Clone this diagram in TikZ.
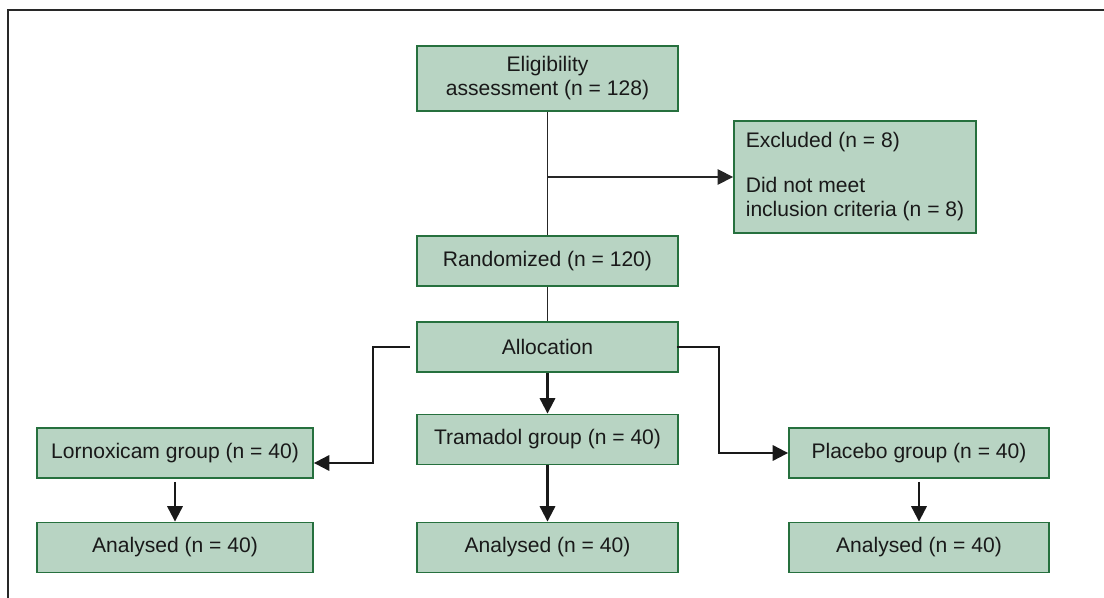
\documentclass[tikz,border=0pt]{standalone}
\usepackage{fontspec}
\setmainfont{Liberation Sans}
\usetikzlibrary{arrows.meta}
\definecolor{boxfill}{RGB}{184,212,195}
\definecolor{boxline}{RGB}{38,112,62}
\definecolor{framegray}{RGB}{40,40,40}

\begin{document}
\begin{tikzpicture}[x=0.75pt,y=0.75pt,yscale=-1,xscale=1,
  box/.style={draw=boxline, fill=boxfill, line width=1.4pt, minimum width=195.75pt, minimum height=37.5pt, align=center, inner sep=0.75pt, font=\fontsize{15.8}{18}\selectfont, text=black!90},
  thinline/.style={line width=0.9pt, black!85},
  flow/.style={line width=1.6pt, black!90, -{Triangle[length=11.5pt,width=11.5pt]}}]
\useasboundingbox (0,0) rectangle (1104,598);

%Shape: Frame
\draw [framegray, line width=1.1pt] (8,598) -- (8,10) -- (1104,10) ;

% Text Node
\node [box, minimum height=48.75pt] (elig) at (547.5,78.5) {Eligibility\\assessment (n = 128)};
% Text Node
\node [box, minimum width=181.5pt, minimum height=84pt, align=left] (excl) at (855,177) {Excluded (n = 8)\\[15.75pt]Did not meet\\inclusion criteria (n = 8)};
% Text Node
\node [box] (rand) at (547.5,261) {Randomized (n = 120)};
% Text Node
\node [box] (alloc) at (547.5,347) {Allocation};
% Text Node
\node [box] (tram) at (547.5,439.5) {Tramadol group (n = 40)};
% Text Node
\node [box, minimum width=207pt] (lorn) at (175,453) {Lornoxicam group (n = 40)};
% Text Node
\node [box, minimum width=195pt] (plac) at (919,453) {Placebo group (n = 40)};
% Text Node
\node [box, minimum width=207pt] (anlorn) at (175,547.5) {Analysed (n = 40)};
% Text Node
\node [box] (antram) at (547.5,547.5) {Analysed (n = 40)};
% Text Node
\node [box, minimum width=195pt] (anplac) at (919,547.5) {Analysed (n = 40)};

%Straight Lines
\coordinate (split) at (elig.south |- excl.west);
\coordinate (lornin) at ([yshift=7.5pt]lorn.east);
\draw [thinline] (elig.south) -- (rand.north) ;
\draw [thinline, line width=1.2pt, -{Triangle[length=11.5pt,width=11.5pt]}] (split) -- (excl.west) ;
\draw [thinline] (rand.south) -- (alloc.north) ;
\draw [flow] ([xshift=-4.5pt]alloc.west) -- ++(-37,0) |- (lornin) ;
\draw [flow] ([xshift=-1.5pt]alloc.east) -- ++(42,0) |- (plac.west) ;
\draw [flow] (alloc.south) -- (tram.north) ;
\draw [flow] (tram.south) -- (antram.north) ;
\draw [flow] ([yshift=2.25pt]lorn.south) -- (anlorn.north) ;
\draw [flow] ([yshift=2.25pt]plac.south) -- (anplac.north) ;

\end{tikzpicture}
\end{document}
